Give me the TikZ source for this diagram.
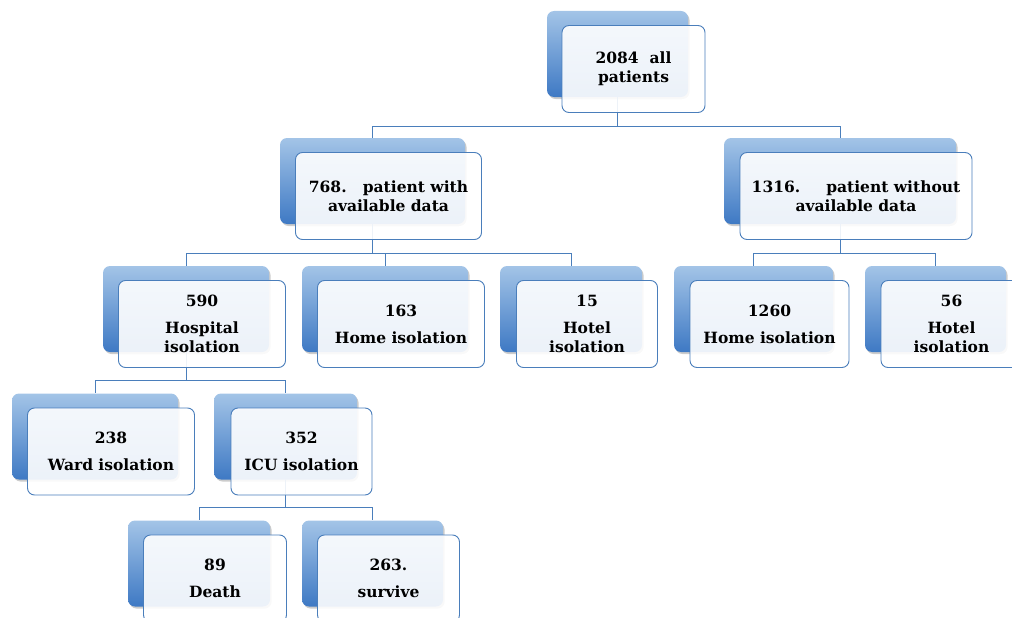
\documentclass[tikz,border=0pt]{standalone}
\usepackage{fontspec}
\setmainfont{DejaVu Serif}
\usetikzlibrary{positioning,shadows}
\definecolor{boxline}{RGB}{74,126,187}
\definecolor{boxtop}{RGB}{163,196,231}
\definecolor{boxbottom}{RGB}{62,121,196}
\tikzset{
% Two node styles for each box: shaded back and light front
back node/.style={rounded corners=7,top color=boxtop,bottom color=boxbottom,minimum height=86,inner sep=0,
  drop shadow={shadow xshift=1.5pt,shadow yshift=-2pt,fill=black,opacity=.2}},
front node/.style={rounded corners=7,draw=boxline,line width=0.9,fill=white,fill opacity=0.9,text opacity=1,
  minimum height=87,inner sep=2,align=center,on grid,below right=15pt and 16pt of #1},
link/.style={draw=boxline,line width=1}
}

\begin{document}
\begin{tikzpicture}[x=1pt,y=-1pt,font=\fontsize{15.5}{19}\selectfont\bfseries]
\useasboundingbox (0,0) rectangle (1012,618);
% Back boxes
\node(0)[back node,minimum width=141] at (617.5,54) {};
\node(1)[back node,minimum width=185] at (372.5,181) {};
\node(2)[back node,minimum width=232] at (840,181) {};
\node(11)[back node,minimum width=166] at (186,309) {};
\node(12)[back node,minimum width=166] at (385,309) {};
\node(13)[back node,minimum width=142] at (571,309) {};
\node(21)[back node,minimum width=159] at (753.5,309) {};
\node(22)[back node,minimum width=141] at (935.5,309) {};
\node(111)[back node,minimum width=166] at (95,436.5) {};
\node(112)[back node,minimum width=143] at (285.5,436.5) {};
\node(1121)[back node,minimum width=142] at (199,563.5) {};
\node(1122)[back node,minimum width=141] at (372.5,563.5) {};
% Links between levels
\draw[link] (0.south) -- ++(0,29) -| (1.north);
\draw[link] (0.south) -- ++(0,29) -| (2.north);
\draw[link] (1.south) -- ++(0,29) -| (11.north);
\draw[link] (1.south) -- ++(0,29) -| (12.north);
\draw[link] (1.south) -- ++(0,29) -| (13.north);
\draw[link] (2.south) -- ++(0,29) -| (21.north);
\draw[link] (2.south) -- ++(0,29) -| (22.north);
\draw[link] (11.south) -- ++(0,28) -| (111.north);
\draw[link] (11.south) -- ++(0,28) -| (112.north);
\draw[link] (112.south) -- ++(0,28) -| (1121.north);
\draw[link] (112.south) -- ++(0,28) -| (1122.north);
% Front boxes with the texts
\node(0f)[front node=0,minimum width=143]{2084\ \ all\\patients};
\node(1f)[front node=1,minimum width=186]{768.\ \ \ patient with\\available data};
\node(2f)[front node=2,minimum width=232]{1316.\hspace{26pt}patient without\\available data};
\node(11f)[front node=11,minimum width=167]{590\\[8pt]Hospital\\isolation};
\node(12f)[front node=12,minimum width=167]{163\\[8pt]Home isolation};
\node(13f)[front node=13,minimum width=141]{15\\[8pt]Hotel\\isolation};
\node(21f)[front node=21,minimum width=159]{1260\\[8pt]Home isolation};
\node(22f)[front node=22,minimum width=141]{56\\[8pt]Hotel\\isolation};
\node(111f)[front node=111,minimum width=167]{238\\[8pt]Ward isolation};
\node(112f)[front node=112,minimum width=141]{352\\[8pt]ICU isolation};
\node(1121f)[front node=1121,minimum width=143]{89\\[8pt]Death};
\node(1122f)[front node=1122,minimum width=142]{263.\\[8pt]survive};
\end{tikzpicture}
\end{document}
